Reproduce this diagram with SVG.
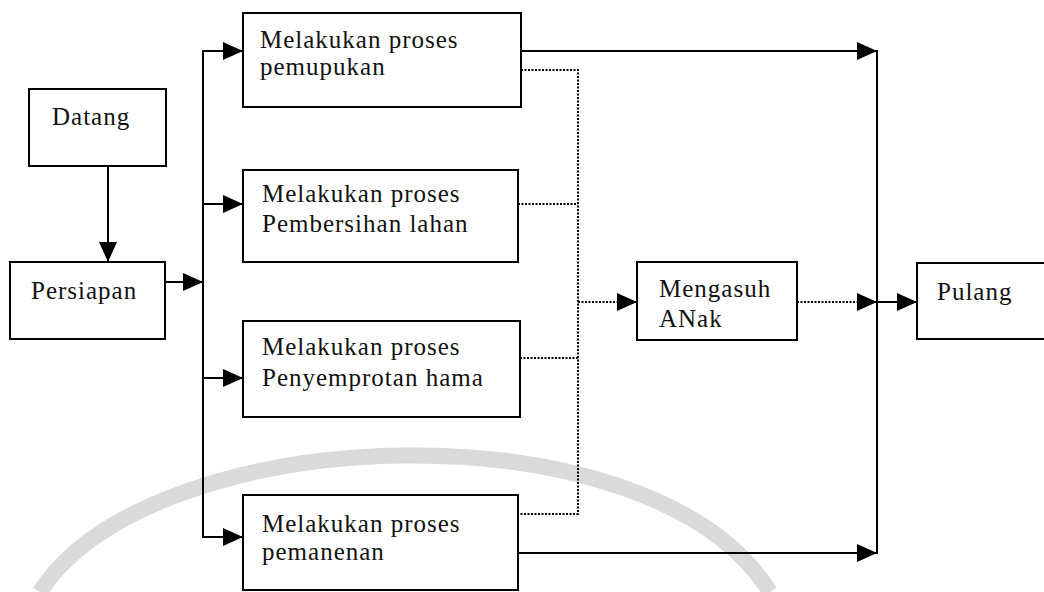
<svg xmlns="http://www.w3.org/2000/svg" width="1044" height="592" viewBox="0 0 1044 592">
<style>
.box{fill:none;stroke:#000;stroke-width:2}
.t{font-family:"Liberation Serif","Times New Roman",serif;font-size:25px;letter-spacing:1px;fill:#111}
.ln{fill:none;stroke:#000;stroke-width:2}
.dot{fill:none;stroke:#000;stroke-width:2;stroke-dasharray:2 1.5}
</style>
<defs>
<marker id="ah" markerUnits="userSpaceOnUse" viewBox="0 0 20 18" refX="20" refY="9" markerWidth="20" markerHeight="18" orient="auto">
<path d="M0 0 L20 9 L0 18 Z" fill="#000"/>
</marker>
</defs>
<rect width="1044" height="592" fill="#fff"/>
<g id="watermark">
<path d="M40 592 C150 420 650 400 770 592" fill="none" stroke="#dadada" stroke-width="16"/>
</g>
<g id="connectors">
<line class="ln" x1="108" y1="166" x2="108" y2="262" marker-end="url(#ah)"/>
<line class="ln" x1="165" y1="282" x2="203" y2="282" marker-end="url(#ah)"/>
<line class="ln" x1="203" y1="50" x2="203" y2="538"/>
<line class="ln" x1="202" y1="51" x2="243" y2="51" marker-end="url(#ah)"/>
<line class="ln" x1="203" y1="204" x2="243" y2="204" marker-end="url(#ah)"/>
<line class="ln" x1="203" y1="378" x2="243" y2="378" marker-end="url(#ah)"/>
<line class="ln" x1="202" y1="537" x2="243" y2="537" marker-end="url(#ah)"/>
<line class="ln" x1="521" y1="51" x2="877" y2="51" marker-end="url(#ah)"/>
<line class="ln" x1="877" y1="50" x2="877" y2="554"/>
<line class="ln" x1="518" y1="553" x2="877" y2="553" marker-end="url(#ah)"/>
<line class="ln" x1="877" y1="302" x2="917" y2="302" marker-end="url(#ah)"/>
<path class="dot" d="M521 70 H578 V514 H518"/>
<line class="dot" x1="518" y1="204" x2="578" y2="204"/>
<line class="dot" x1="520" y1="358" x2="578" y2="358"/>
<line class="dot" x1="578" y1="302" x2="637" y2="302" marker-end="url(#ah)"/>
<line class="dot" x1="797" y1="302" x2="877" y2="302" marker-end="url(#ah)"/>
</g>
<g id="datang">
<rect class="box" x="29" y="89" width="137" height="77"/>
<text class="t" x="52" y="125">Datang</text>
</g>
<g id="persiapan">
<rect class="box" x="10" y="262" width="155" height="77"/>
<text class="t" x="31" y="299">Persiapan</text>
</g>
<g id="pemupukan">
<rect class="box" x="243" y="13" width="278" height="94"/>
<text class="t" x="260" y="48">Melakukan proses</text>
<text class="t" x="260" y="75">pemupukan</text>
</g>
<g id="pembersihan">
<rect class="box" x="243" y="170" width="275" height="92"/>
<text class="t" x="262" y="202">Melakukan proses</text>
<text class="t" x="262" y="232">Pembersihan lahan</text>
</g>
<g id="penyemprotan">
<rect class="box" x="243" y="321" width="277" height="96"/>
<text class="t" x="262" y="355">Melakukan proses</text>
<text class="t" x="262" y="386">Penyemprotan hama</text>
</g>
<g id="pemanenan">
<rect class="box" x="243" y="495" width="275" height="95"/>
<text class="t" x="262" y="532">Melakukan proses</text>
<text class="t" x="262" y="560">pemanenan</text>
</g>
<g id="mengasuh">
<rect class="box" x="637" y="262" width="160" height="78"/>
<text class="t" x="659" y="297">Mengasuh</text>
<text class="t" x="659" y="327">ANak</text>
</g>
<g id="pulang">
<rect class="box" x="917" y="263" width="140" height="76"/>
<text class="t" x="937" y="300">Pulang</text>
</g>
</svg>
